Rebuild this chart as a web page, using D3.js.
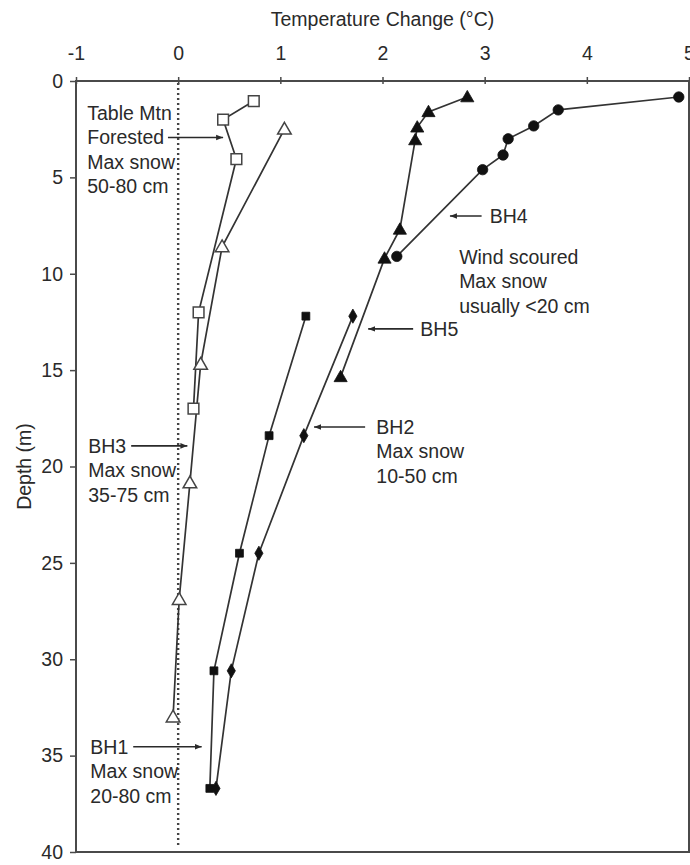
<!DOCTYPE html>
<html><head><meta charset="utf-8">
<script src="https://cdn.jsdelivr.net/npm/d3@7"></script>
<style>body{margin:0;background:#fff}svg{display:block}text{font-family:"Liberation Sans",Arial,sans-serif;fill:#2a2a2a}</style>
</head><body><svg id="c" width="690" height="865"></svg>
<script>
// Data (temperature change °C, depth m)
const tableMtnT = [0.74, 0.44, 0.57, 0.20, 0.15];
const tableMtnD = [1.04, 2.0, 4.05, 12.0, 17.0];
const bh3T = [1.04, 0.43, 0.22, 0.115, 0.01, -0.05];
const bh3D = [2.5, 8.6, 14.7, 20.85, 26.9, 33.0];
const bh4T = [4.9, 3.72, 3.48, 3.23, 3.18, 2.98, 2.14];
const bh4D = [0.83, 1.5, 2.33, 3.0, 3.84, 4.6, 9.1];
const bh5T = [2.83, 2.45, 2.34, 2.32, 2.17, 2.02, 1.59];
const bh5D = [0.83, 1.6, 2.4, 3.06, 7.7, 9.2, 15.35];
const bh1T = [1.25, 0.89, 0.60, 0.35, 0.31];
const bh1D = [12.2, 18.4, 24.5, 30.6, 36.7];
const bh2T = [1.71, 1.23, 0.79, 0.52, 0.37];
const bh2D = [12.2, 18.4, 24.5, 30.6, 36.7];
const xTicks = [-1, 0, 1, 2, 3, 4, 5];
const yTicks = [0, 5, 10, 15, 20, 25, 30, 35, 40];
const xTitle = "Temperature Change (°C)";
const yTitle = "Depth (m)";

const series = [
  {name:"Table Mtn", t:tableMtnT, d:tableMtnD, sym:"square", fill:false, size:115},
  {name:"BH3", t:bh3T, d:bh3D, sym:"triangle", fill:false, size:80},
  {name:"BH4", t:bh4T, d:bh4D, sym:"circle", fill:true, size:85},
  {name:"BH5", t:bh5T, d:bh5D, sym:"triangle", fill:true, size:75},
  {name:"BH1", t:bh1T, d:bh1D, sym:"square", fill:true, size:62},
  {name:"BH2", t:bh2T, d:bh2D, sym:"diamond", fill:true, size:58}
];

// annotations: text lines with left/center anchor in data coords; arrow tail->head
const annotations = [
  {lines:["Table Mtn","Forested","Max snow","50-80 cm"], t:-0.89, d:1.66, arrow:{line:1, from:-0.10, to:0.44}},
  {lines:["BH3","Max snow","35-75 cm"], t:-0.88, d:18.93, arrow:{line:0, from:-0.46, to:0.09}},
  {lines:["BH1","Max snow","20-80 cm"], t:-0.86, d:34.54, arrow:{line:0, from:-0.44, to:0.23}},
  {lines:["BH4"], t:3.05, d:7.0, arrow:{line:0, from:2.97, to:2.66}},
  {lines:["Wind scoured","Max snow","usually <20 cm"], t:2.75, d:9.13},
  {lines:["BH5"], t:2.37, d:12.86, arrow:{line:0, from:2.30, to:1.86}},
  {lines:["BH2","Max snow","10-50 cm"], t:1.94, d:17.95, arrow:{line:0, from:1.83, to:1.33}}
];

const svg = d3.select("#c");
const L = 76, R = 689, T = 81, B = 852;
const x = d3.scaleLinear().domain([-1, 5]).range([L, R]);
const y = d3.scaleLinear().domain([0, 40]).range([T, B]);
const axisCol = "#4a4a4a";
const fontF = "Liberation Sans, Arial, sans-serif";

svg.append("defs").append("marker").attr("id","ah").attr("viewBox","0 0 10 10")
  .attr("refX",10).attr("refY",5).attr("markerWidth",7).attr("markerHeight",7)
  .attr("markerUnits","userSpaceOnUse").attr("orient","auto")
  .append("path").attr("d","M0,1 L10,5 L0,9 Z").attr("fill","#2a2a2a");

// zero dotted line
svg.append("line").attr("x1",x(0)).attr("x2",x(0)).attr("y1",y(0)+2).attr("y2",y(39.7))
  .attr("stroke","#444").attr("stroke-width",2.4).attr("stroke-dasharray","2 3");

// axes
const xAxis = d3.axisTop(x).tickValues(xTicks).tickSize(5).tickPadding(16).tickFormat(d=>String(d));
const gx = svg.append("g").attr("transform",`translate(0,${T})`).call(xAxis);
gx.select(".domain").remove();
gx.selectAll(".tick line").attr("stroke",axisCol).attr("stroke-width",1.5).attr("y2",-4).attr("y1",3);
gx.selectAll(".tick text").attr("font-size",19.5).style("fill","#2a2a2a").attr("font-family",fontF);

const yAxis = d3.axisLeft(y).tickValues(yTicks).tickSize(6).tickPadding(7).tickFormat(d=>String(d));
const gy = svg.append("g").attr("transform",`translate(${L},0)`).call(yAxis);
gy.select(".domain").remove();
gy.selectAll(".tick line").attr("stroke",axisCol).attr("stroke-width",1.5);
gy.selectAll(".tick text").attr("font-size",19.5).style("fill","#2a2a2a").attr("font-family",fontF);

// frame
svg.append("rect").attr("x",L).attr("y",T).attr("width",R-L).attr("height",B-T)
  .attr("fill","none").attr("stroke",axisCol).attr("stroke-width",2);

// titles
svg.append("text").attr("x",(L+R)/2).attr("y",26).attr("text-anchor","middle").attr("font-size",19.5).text(xTitle);
svg.append("text").attr("transform",`translate(31,${(T+B)/2}) rotate(-90)`).attr("text-anchor","middle").attr("font-size",19.5).text(yTitle);

// series
const line = d3.line().x(p=>x(p[0])).y(p=>y(p[1]));
const symMap = {square:d3.symbolSquare, triangle:d3.symbolTriangle, circle:d3.symbolCircle, diamond:d3.symbolDiamond};
series.forEach(s=>{
  const pts = s.t.map((v,i)=>[v, s.d[i]]);
  svg.append("path").datum(pts).attr("d",line).attr("fill","none").attr("stroke","#333").attr("stroke-width",1.7);
});
series.forEach(s=>{
  const pts = s.t.map((v,i)=>[v, s.d[i]]);
  const sym = d3.symbol().type(symMap[s.sym]).size(s.size);
  svg.append("g").selectAll("path").data(pts).join("path")
    .attr("transform",p=>`translate(${x(p[0])},${y(p[1]) + (s.sym==="triangle"?1:0)})`)
    .attr("d",sym)
    .attr("fill", s.fill ? "#111" : "#fff")
    .attr("stroke", s.fill ? "#111" : "#444")
    .attr("stroke-width", s.fill ? 0.8 : 1.5);
});

// annotations
const lh = 24.5;
annotations.forEach(a=>{
  const g = svg.append("g");
  a.lines.forEach((ln,i)=>{
    g.append("text").attr("x",x(a.t)).attr("y",y(a.d)+i*lh).attr("dy","0.35em")
      .attr("font-size",19.5).text(ln);
  });
  if(a.arrow){
    const yy = y(a.d)+a.arrow.line*lh;
    g.append("line").attr("x1",x(a.arrow.from)).attr("x2",x(a.arrow.to)).attr("y1",yy).attr("y2",yy)
      .attr("stroke","#2a2a2a").attr("stroke-width",1.6).attr("marker-end","url(#ah)");
  }
});
</script></body></html>
